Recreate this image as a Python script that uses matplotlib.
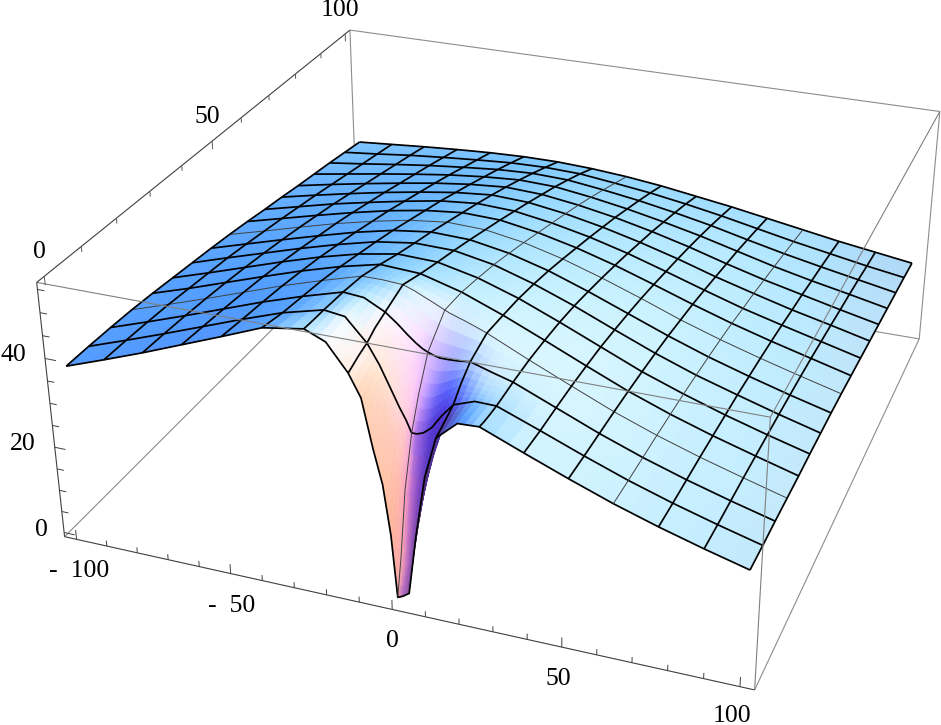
import numpy as np
import matplotlib
matplotlib.use('Agg')
import matplotlib.pyplot as plt
from mpl_toolkits.mplot3d.art3d import Poly3DCollection, Line3DCollection

plt.rcParams['font.family'] = ['Liberation Serif', 'DejaVu Serif']

# mesh nodes
x_mesh = [-100, -87.5, -75, -62.5, -50, -37.5, -25, -12.5, 0, 12.5, 25, 37.5, 50, 62.5, 75, 87.5, 100]
y_mesh = [0, 6.25, 12.5, 18.75, 25, 31.25, 37.5, 43.75, 50, 56.25, 62.5, 68.75, 75, 81.25, 87.5, 93.75, 100]
z_mesh = [
    [37.4, 40.5, 43.7, 47.1, 50.5, 54.0, 55.4, 47.8, 0.0, 37.5, 41.7, 38.0, 34.4, 31.0, 28.0, 25.3, 22.8],
    [37.4, 40.4, 43.5, 46.7, 49.9, 52.9, 55.1, 49.7, 32.0, 39.9, 41.4, 37.9, 34.3, 30.9, 27.9, 25.2, 22.7],
    [37.3, 40.2, 43.2, 46.3, 49.4, 52.2, 54.7, 52.0, 45.0, 44.6, 41.9, 38.1, 34.3, 30.9, 27.9, 25.2, 22.7],
    [37.1, 39.9, 42.8, 45.8, 48.8, 51.5, 54.0, 53.7, 49.8, 46.4, 42.2, 38.2, 34.3, 30.9, 27.9, 25.2, 22.6],
    [36.7, 39.4, 42.3, 45.2, 48.0, 50.5, 52.5, 52.0, 49.5, 46.0, 42.1, 38.1, 34.2, 30.8, 27.8, 25.1, 22.5],
    [36.2, 38.9, 41.7, 44.5, 47.1, 49.3, 50.8, 50.5, 48.5, 45.5, 41.8, 37.9, 34.0, 30.7, 27.7, 25.0, 22.5],
    [35.7, 38.4, 41.0, 43.6, 46.0, 48.1, 49.3, 49.1, 47.4, 44.6, 41.2, 37.4, 33.7, 30.4, 27.6, 24.9, 22.4],
    [35.2, 37.7, 40.2, 42.6, 44.9, 46.8, 47.9, 47.6, 46.0, 43.5, 40.3, 36.8, 33.3, 30.1, 27.3, 24.7, 22.3],
    [34.6, 36.9, 39.3, 41.6, 43.6, 45.3, 46.3, 46.0, 44.5, 42.2, 39.3, 36.1, 32.7, 29.7, 27.0, 24.5, 22.1],
    [33.9, 36.1, 38.3, 40.4, 42.3, 43.8, 44.7, 44.4, 42.9, 40.8, 38.2, 35.2, 32.1, 29.2, 26.6, 24.2, 21.8],
    [33.1, 35.2, 37.3, 39.1, 40.8, 42.3, 43.1, 42.7, 41.3, 39.4, 37.0, 34.2, 31.3, 28.5, 26.1, 23.8, 21.5],
    [32.4, 34.3, 36.1, 37.8, 39.3, 40.6, 41.4, 41.0, 39.7, 37.9, 35.7, 33.2, 30.4, 27.9, 25.5, 23.4, 21.2],
    [31.6, 33.3, 34.9, 36.4, 37.8, 38.9, 39.6, 39.2, 38.0, 36.4, 34.4, 32.1, 29.5, 27.1, 25.0, 22.9, 20.9],
    [30.9, 32.3, 33.7, 35.0, 36.2, 37.1, 37.7, 37.4, 36.2, 34.7, 32.9, 30.9, 28.6, 26.3, 24.3, 22.5, 20.6],
    [30.2, 31.3, 32.5, 33.6, 34.5, 35.3, 35.7, 35.4, 34.3, 33.0, 31.4, 29.6, 27.5, 25.5, 23.7, 22.0, 20.3],
    [29.4, 30.3, 31.3, 32.1, 32.8, 33.4, 33.6, 33.3, 32.3, 31.2, 29.8, 28.2, 26.4, 24.6, 23.0, 21.4, 20.0],
    [28.6, 29.3, 30.0, 30.6, 31.1, 31.4, 31.4, 31.0, 30.3, 29.3, 28.0, 26.7, 25.2, 23.7, 22.2, 20.9, 19.6],
]

# finer readings around the pit
x_pit = [-25, -18.75, -12.5, -9, -6, -3.5, -1.5, 0, 1.5, 3.5, 6, 9, 12.5, 18.75, 25]
y_pit = [0, 1.5, 3.5, 6.25, 9, 12.5, 18.75]
z_pit = [
    [55.4, 53.5, 47.8, 43.0, 32.5, 25.0, 14.0, 0.0, 0.5, 1.5, 15.0, 28.5, 37.5, 41.5, 41.7],
    [55.3, 53.7, 48.3, 44.0, 35.0, 28.0, 20.0, 8.0, 6.0, 8.0, 18.0, 30.0, 38.0, 41.6, 41.5],
    [55.2, 54.0, 49.0, 45.5, 39.0, 33.0, 27.0, 21.5, 20.0, 20.0, 23.0, 31.0, 38.8, 41.5, 41.4],
    [55.1, 54.5, 49.7, 45.5, 41.0, 37.2, 34.5, 32.0, 32.0, 32.5, 34.0, 37.0, 39.9, 41.5, 41.4],
    [54.9, 54.6, 51.0, 47.5, 44.0, 41.5, 39.5, 38.5, 38.0, 38.0, 39.0, 40.5, 42.3, 42.0, 41.6],
    [54.7, 54.3, 52.0, 50.0, 48.0, 46.5, 45.5, 45.0, 44.6, 44.2, 44.2, 44.3, 44.6, 43.2, 41.9],
    [54.0, 54.0, 53.7, 52.8, 51.8, 51.0, 50.3, 49.8, 49.3, 48.8, 48.2, 47.4, 46.4, 44.3, 42.2],
]

x_ticks = [-100, -90, -80, -70, -60, -50, -40, -30, -20, -10, 0, 10, 20, 30, 40, 50, 60, 70, 80, 90, 100]
y_ticks = [0, 10, 20, 30, 40, 50, 60, 70, 80, 90, 100]
z_ticks = [0, 5, 10, 15, 20, 25, 30, 35, 40, 45, 50, 55]
x_labels = {-100: '-  100', -50: '-  50', 0: '0', 50: '50', 100: '100'}
y_labels = {0: '0', 50: '50', 100: '100'}
z_labels = {0: '0', 20: '20', 40: '40'}
thin_rows = [18.75, 50]
thin_cols = [0, 62.5]

# plot box and where its corners fall in the image
xlo, xhi, ylo, yhi, zlo, zhi = -104, 104, -2, 102, -1, 56.5
world = [(xlo, ylo, zlo), (xlo, ylo, zhi), (xlo, yhi, zhi), (xhi, yhi, zhi),
         (xhi, ylo, zhi), (xhi, ylo, zlo), (xhi, yhi, zlo)]
image = [(64.5, 536.5), (36.7, 282.7), (350, 30), (940, 111.5),
         (770, 417), (755, 690), (919, 339)]


def camera_matrix():
    A, b = [], []
    for (X, Y, Z), (u, v) in zip(world, image):
        A.append([X, Y, Z, 1, 0, 0, 0, 0, -u * X, -u * Y, -u * Z])
        A.append([0, 0, 0, 0, X, Y, Z, 1, -v * X, -v * Y, -v * Z])
        b += [u, v]
    p = np.linalg.lstsq(np.array(A, float), np.array(b, float), rcond=None)[0]
    return np.append(p, 1).reshape(3, 4)


def along(m, new, old, axis):
    return np.apply_along_axis(lambda c: np.interp(new, old, c), axis, m)


def refine(a, k):
    a = np.asarray(a, float)
    return np.interp(np.linspace(0, len(a) - 1, (len(a) - 1) * k + 1), np.arange(len(a)), a)


def shade(nx, ny, P):
    # default Mathematica style lights: red, green, blue, fixed to the camera
    C = -np.linalg.solve(P[:, :3], P[:, 3])
    s = np.array([1 / 208, 1 / 104, 0.4 / 57.5])
    O = np.array([0, 50, 27.75])
    t = (C - O) * s
    t /= np.linalg.norm(t)
    r = np.cross([0, 0, 1], t)
    r /= np.linalg.norm(r)
    u = np.cross(t, r)
    n = np.stack([nx, ny, np.ones_like(nx)], -1)
    n /= np.linalg.norm(n, axis=-1, keepdims=True)
    cam = np.stack([n @ r, n @ u, n @ t], -1)
    lights = np.array([[1, 0, 1], [1, 1, 1], [0, 1, 1]], float)
    lights /= np.linalg.norm(lights, axis=1, keepdims=True)
    ambient = np.array([0.312, 0.188, 0.4])
    rgb = ambient + 0.8 * np.clip(cam @ lights.T, 0, None)
    return np.clip(rgb, 0, 1)


def main():
    P = camera_matrix()
    M = np.vstack([P[0], P[1], [0, 0, 0, -1], P[2]])

    coarse = np.array(z_mesh)
    xm, ym = np.array(x_mesh, float), np.array(y_mesh, float)
    X = np.array(sorted(set(x_mesh) | set(x_pit)), float)
    Y = np.array(sorted(set(y_mesh) | set(y_pit)), float)
    Z = along(along(coarse, Y, ym, 0), X, xm, 1)
    block = np.ix_(np.searchsorted(Y, y_pit), np.searchsorted(X, x_pit))
    Z[block] = np.array(z_pit)

    # slopes for the shading: mesh slopes in the open, fine ones around the pit
    cy, cx = np.gradient(coarse, ym, xm)
    dzdx = along(along(cx, Y, ym, 0), X, xm, 1)
    dzdy = along(along(cy, Y, ym, 0), X, xm, 1)
    fy, fx = np.gradient(Z, Y, X)
    dzdx[block] = fx[block]
    dzdy[block] = fy[block]
    sx, sy, sz = 1 / 208, 1 / 104, 0.4 / 57.5
    colors = shade(-dzdx * sz / sx, -dzdy * sz / sy, P)
    # the bottom of the pit looks more muted and pink
    low = 0.4 * np.clip((25 - Z) / 25, 0, 1)[..., None]
    colors = colors * (1 - low) + low * np.array([0.95, 0.55, 0.65])

    k = 3
    Xf, Yf = refine(X, k), refine(Y, k)
    Zf = along(along(Z, Yf, Y, 0), Xf, X, 1)
    Cf = np.stack([along(along(colors[..., c], Yf, Y, 0), Xf, X, 1) for c in range(3)], -1)
    XX, YY = np.meshgrid(Xf, Yf)
    V = np.stack([XX, YY, Zf], -1)
    verts = np.stack([V[:-1, :-1], V[:-1, 1:], V[1:, 1:], V[1:, :-1]], 2).reshape(-1, 4, 3)
    face = ((Cf[:-1, :-1] + Cf[:-1, 1:] + Cf[1:, 1:] + Cf[1:, :-1]) / 4).reshape(-1, 3)

    fig = plt.figure(figsize=(9.41, 7.25), dpi=100)
    ax = fig.add_axes([0, 0, 1, 941 / 725], projection='3d')
    ax.get_proj = lambda: M
    ax.set_axis_off()
    ax.computed_zorder = False

    surf = Poly3DCollection(verts, facecolors=face, edgecolors=face, linewidths=0.4, zorder=2)
    ax.add_collection3d(surf, autolim=False)

    def line(xs, ys, zs, color, lw, zorder):
        pts = np.column_stack([xs, ys, zs])
        ax.add_collection3d(Line3DCollection([pts], colors=color, linewidths=lw, zorder=zorder),
                            autolim=False)

    for j, y in enumerate(Y):
        if y in y_mesh:
            thin = y in thin_rows
            line(X, np.full_like(X, y), Z[j], '0.25' if thin else 'black', 0.7 if thin else 1.25, 3)
    for i, x in enumerate(X):
        if x in x_mesh:
            thin = x in thin_cols
            line(np.full_like(Y, x), Y, Z[:, i], '0.25' if thin else 'black', 0.7 if thin else 1.25, 3)

    # box edges, the ones behind the surface first
    back = [((xlo, ylo, zlo), (xlo, yhi, zlo)), ((xlo, yhi, zlo), (xhi, yhi, zlo)),
            ((xlo, yhi, zlo), (xlo, yhi, zhi)), ((xlo, yhi, zhi), (xhi, yhi, zhi)),
            ((xhi, yhi, zlo), (xhi, yhi, zhi)), ((xhi, ylo, zlo), (xhi, yhi, zlo))]
    front = [((xlo, ylo, zhi), (xhi, ylo, zhi)), ((xhi, ylo, zlo), (xhi, ylo, zhi)),
             ((xhi, ylo, zhi), (xhi, yhi, zhi))]
    axes_edges = [((xlo, ylo, zlo), (xhi, ylo, zlo)), ((xlo, ylo, zlo), (xlo, ylo, zhi)),
                  ((xlo, ylo, zhi), (xlo, yhi, zhi))]
    for a, b in back:
        line(*zip(a, b), '0.55', 0.8, 1)
    for a, b in front:
        line(*zip(a, b), '0.5', 0.8, 4)
    for a, b in axes_edges:
        line(*zip(a, b), '0.25', 0.8, 4)

    for x in x_ticks:
        h = 2.2 if x in x_labels else 1.3
        line([x, x], [ylo, ylo], [zlo, zlo + h], '0.25', 0.7, 4)
    for y in y_ticks:
        h = 1.9 if y in y_labels else 1.2
        line([xlo, xlo], [y, y], [zhi, zhi - h], '0.35', 0.7, 4)
    for z in z_ticks:
        h = 3.5 if z in z_labels else 2.2
        line([xlo, xlo + h], [ylo, ylo], [z, z], '0.25', 0.7, 4)

    def label(pos, text, dx, dy):
        h = P @ np.array([*pos, 1.0])
        ax.annotate(text, xy=(h[0] / h[2], h[1] / h[2]), xycoords='data',
                    xytext=(dx, -dy), textcoords='offset pixels',
                    ha='center', va='center', fontsize=18.5, color='black', zorder=5)

    x_shift = {-100: 3, -50: 1, 0: 0, 50: -3, 100: -8}
    for x, s in x_labels.items():
        label((x, ylo, zlo), s, x_shift[x], 29 if x == 100 else 32)
    for y, s in y_labels.items():
        label((xlo, y, zhi), s, -5, -24)
    z_shift = {0: -23, 20: -32, 40: -32}
    for z, s in z_labels.items():
        label((xlo, ylo, z), s, z_shift[z], -3)

    ax.viewLim.intervalx = (0, 941)
    ax.viewLim.intervaly = (725, -216)
    fig.savefig('out.png', dpi=100)


if __name__ == "__main__":
    main()
